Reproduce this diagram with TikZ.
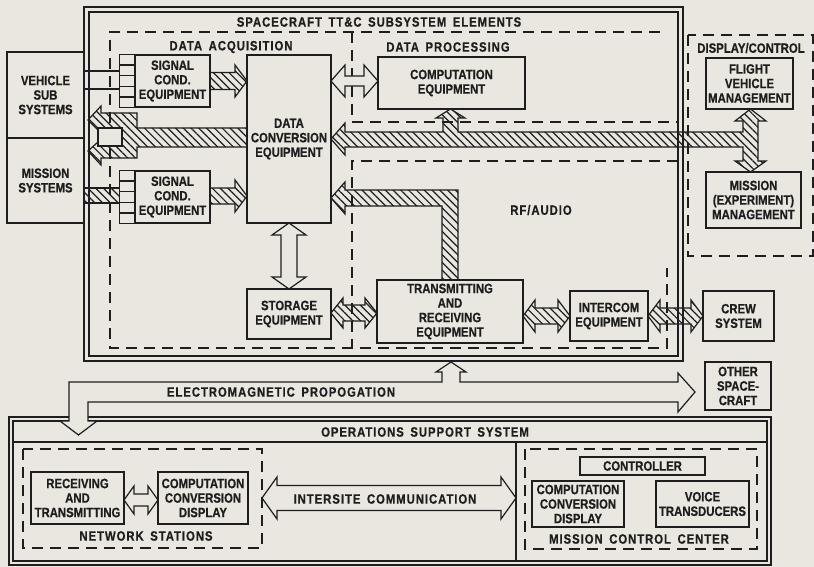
\documentclass[tikz,border=0pt]{standalone}
\usepackage{fontspec}
\setmainfont{Liberation Sans Bold}[FakeStretch=0.84, FakeBold=0.6]
\newfontfamily\ttlfont{Liberation Sans Bold}[FakeStretch=0.84, FakeBold=0.6, LetterSpace=7, WordSpace=1.6]
\usetikzlibrary{patterns.meta,calc}
\definecolor{paper}{HTML}{E9E7DF}
\definecolor{ink}{HTML}{1E1E1E}
\newcommand\lbl{\fontsize{13.5}{14.5}\selectfont}
\newcommand\ttl{\ttlfont\fontsize{13.5}{14.5}\selectfont}
\tikzset{
  box/.style={draw=ink, line width=1.3pt, fill=paper, inner sep=0pt, align=center, font=\lbl, text=ink},
  lab/.style={inner sep=0pt, font=\lbl, text=ink},
  title/.style={inner sep=0pt, font=\ttl, text=ink},
  hatched/.style={draw=ink, line width=1.2pt, pattern={Lines[angle=-45,distance=5.5pt,line width=1.2pt]}, pattern color=ink},
  hollow/.style={draw=ink, line width=1.2pt, fill=paper},
  dashbox/.style={draw=ink, line width=1.2pt, dash pattern=on 11pt off 7pt},
  frame/.style={draw=ink, line width=1.2pt},
}
% horizontal double arrow: style, x1, x2, yc, shaft half, head half, head length
\newcommand\hdarr[7]{\draw[#1] (#2,#4) -- ({#2+#7},{#4-#6}) -- ({#2+#7},{#4-#5}) -- ({#3-#7},{#4-#5}) -- ({#3-#7},{#4-#6}) -- (#3,#4) -- ({#3-#7},{#4+#6}) -- ({#3-#7},{#4+#5}) -- ({#2+#7},{#4+#5}) -- ({#2+#7},{#4+#6}) -- cycle;}
% vertical double arrow: style, y1, y2, xc, shaft half, head half, head length
\newcommand\vdarr[7]{\draw[#1] (#4,#2) -- ({#4-#6},{#2+#7}) -- ({#4-#5},{#2+#7}) -- ({#4-#5},{#3-#7}) -- ({#4-#6},{#3-#7}) -- (#4,#3) -- ({#4+#6},{#3-#7}) -- ({#4+#5},{#3-#7}) -- ({#4+#5},{#2+#7}) -- ({#4+#6},{#2+#7}) -- cycle;}
% horizontal single arrow pointing right: style, x1, x2, yc, shaft half, head half, head length
\newcommand\hsarr[7]{\draw[#1] (#2,{#4-#5}) -- ({#3-#7},{#4-#5}) -- ({#3-#7},{#4-#6}) -- (#3,#4) -- ({#3-#7},{#4+#6}) -- ({#3-#7},{#4+#5}) -- (#2,{#4+#5}) -- cycle;}
\begin{document}
\begin{tikzpicture}[x=1pt,y=-1pt]
\fill[paper] (0,0) rectangle (814,567);
\useasboundingbox (0,0) rectangle (814,567);

% ---------- spacecraft frame ----------
\draw[frame] (84,7) rectangle (683,361);
\draw[frame] (89,12) rectangle (678,356);
\node[title] (tsc) at (379,22) {SPACECRAFT TT\&C SUBSYSTEM ELEMENTS};

% dashed regions
\draw[dashbox] (660,32) -- (110,32) -- (110,348) -- (667,348) -- (667,268);
\draw[dashbox] (352,32) -- (352,122) -- (678,122);
\draw[dashbox] (678,161) -- (352,161) -- (352,348);
\node[title] (tda) at (231,47) {DATA ACQUISITION};
\node[title] (tdp) at (448,47) {DATA PROCESSING};
\node[title] (trf) at (541,210) {RF/AUDIO};

% display / control
\draw[dashbox] (688,35) rectangle (813,256);
\node[lab] (tdc) at (751,48) {DISPLAY/CONTROL};

% ---------- operations support ----------
\draw[frame] (9,417) rectangle (771,565);
\draw[frame] (13,421) rectangle (767,561);
\draw[frame] (13,442) -- (767,442);
\draw[frame] (516,442) -- (516,561);
\node[title] (tops) at (425,432) {OPERATIONS SUPPORT SYSTEM};
\draw[dashbox] (23,449) rectangle (262,548);
\node[title] (tns) at (146,536) {NETWORK STATIONS};
\draw[dashbox] (525,449) rectangle (757,549);
\node[title] (tmcc) at (639,539) {MISSION CONTROL CENTER};

% ---------- hatched connectors ----------
% fork from data conversion to vehicle/mission systems
\draw[hatched] (247,128) -- (137,128) -- (137,113) -- (101,113) -- (101,106) -- (88,120) -- (98,130) -- (98,142) -- (88,151) -- (101,165) -- (101,158) -- (137,158) -- (137,147) -- (247,147) -- cycle;
\draw[hollow] (98,128) rectangle (122,146);
% main bus to display/control
\draw[hatched] (331,139) -- (345,123) -- (345,132) -- (443,132) -- (443,118) -- (436,118) -- (450.5,109) -- (465,118) -- (458,118) -- (458,132) -- (743,132) -- (743,121) -- (735,121) -- (750.5,109) -- (766,121) -- (758,121) -- (758,161) -- (766,161) -- (750.5,172) -- (735,161) -- (743,161) -- (743,147) -- (345,147) -- (345,155) -- cycle;
% L-shaped pipe from transmitting to data conversion
\draw[hatched] (331,198) -- (345,182) -- (345,190) -- (458,190) -- (458,280) -- (442,280) -- (442,206) -- (345,206) -- (345,214) -- cycle;
% signal conditioning to data conversion
\hsarr{hatched}{210}{247}{81}{8.5}{16}{12}
\hsarr{hatched}{210}{247}{196}{8}{16}{12}
% mission systems to signal cond 2
\draw[hatched] (84,188) rectangle (120,203);
% vehicle sub systems to signal cond 1
\draw[frame] (84,71) -- (120,71);
\draw[frame] (84,89) -- (120,89);
% RF double arrows
\hdarr{hatched}{331}{377}{313}{8}{15}{12}
\hdarr{hatched}{523}{570}{316}{8}{16}{12}
\hdarr{hatched}{648}{703}{316}{8}{16}{12}

% ---------- boxes ----------
\node[box, minimum width=77pt, minimum height=86pt] (vss) at (45.5,95) {VEHICLE\\SUB\\SYSTEMS};
\node[box, minimum width=77pt, minimum height=85pt] (ms) at (45.5,180.5) {MISSION\\SYSTEMS};
\node[box, minimum width=75pt, minimum height=52pt] (sc1) at (172.5,81) {SIGNAL\\COND.\\EQUIPMENT};
\node[box, minimum width=75pt, minimum height=52pt] (sc2) at (172.5,197) {SIGNAL\\COND.\\EQUIPMENT};
\foreach \n in {sc1,sc2}{
  \draw[frame, fill=paper] (\n.north west) rectangle ([xshift=-15pt]\n.south west);
  \foreach \k in {1,2,3,4}
    \draw[frame] ($(\n.north west)!\k/5!(\n.south west)+(-15pt,0)$) -- ($(\n.north west)!\k/5!(\n.south west)$);
}
\node[box, minimum width=84pt, minimum height=168pt] (dce) at (289,139) {DATA\\CONVERSION\\EQUIPMENT};
\node[box, minimum width=147pt, minimum height=52pt] (comp) at (451.5,83) {COMPUTATION\\EQUIPMENT};
\node[box, minimum width=87pt, minimum height=51pt] (fvm) at (749.5,83.5) {FLIGHT\\VEHICLE\\MANAGEMENT};
\node[box, minimum width=95pt, minimum height=56pt] (mem) at (753.5,200) {MISSION\\(EXPERIMENT)\\MANAGEMENT};
\node[box, minimum width=84pt, minimum height=50pt] (stor) at (289,314) {STORAGE\\EQUIPMENT};
\node[box, minimum width=146pt, minimum height=63pt] (trx) at (450,311.5) {TRANSMITTING\\AND\\RECEIVING\\EQUIPMENT};
\node[box, minimum width=78pt, minimum height=50pt] (icom) at (609,316) {INTERCOM\\EQUIPMENT};
\node[box, minimum width=71pt, minimum height=50pt] (crew) at (738.5,316) {CREW\\SYSTEM};
\node[box, minimum width=66pt, minimum height=48pt] (other) at (738,386) {OTHER\\SPACE-\\CRAFT};
\node[box, minimum width=93pt, minimum height=52pt] (nsrt) at (77.5,498) {RECEIVING\\AND\\TRANSMITTING};
\node[box, minimum width=90pt, minimum height=52pt] (nsccd) at (203,498) {COMPUTATION\\CONVERSION\\DISPLAY};
\node[box, minimum width=125pt, minimum height=18pt] (ctrl) at (642.5,466) {CONTROLLER};
\node[box, minimum width=92pt, minimum height=46pt] (mccd) at (578,504) {COMPUTATION\\CONVERSION\\DISPLAY};
\node[box, minimum width=93pt, minimum height=46pt] (voice) at (702.5,504) {VOICE\\TRANSDUCERS};

% ---------- hollow arrows ----------
\hdarr{hollow}{331}{378}{81}{5}{16}{14}
\vdarr{hollow}{223}{289}{289}{8}{17}{12}
\hdarr{hollow}{124}{158}{500}{6}{14}{10}
\hdarr{hollow}{262}{516}{498}{12.5}{21}{15}
\node[title] (tis) at (385,499) {INTERSITE COMMUNICATION};

% electromagnetic propagation
\draw[hollow] (78.5,435) -- (97,421) -- (88,421) -- (88,402) -- (678,402) -- (678,412) -- (695,392) -- (678,373) -- (678,382) -- (460,382) -- (460,372) -- (466,372) -- (451,362) -- (436,372) -- (442,372) -- (442,382) -- (69,382) -- (69,421) -- (60,421) -- cycle;
\node[title] (tem) at (281,392) {ELECTROMAGNETIC PROPOGATION};
\end{tikzpicture}
\end{document}
